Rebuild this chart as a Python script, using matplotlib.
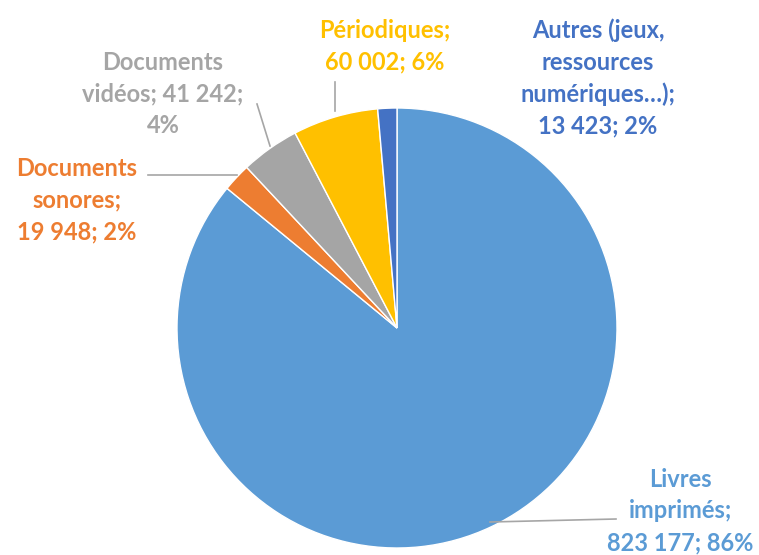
import matplotlib
matplotlib.use('Agg')
import matplotlib.pyplot as plt

values = [823177, 19948, 41242, 60002, 13423]
value_labels = ['823 177', '19 948', '41 242', '60 002', '13 423']
pct_labels = ['86%', '2%', '4%', '6%', '2%']
colors = ['#5B9BD5', '#ED7D31', '#A5A5A5', '#FFC000', '#4472C4']

plt.rcParams['font.family'] = ['Lato', 'DejaVu Sans']

fig = plt.figure(figsize=(7.59, 5.55), dpi=100)
ax = fig.add_axes([0, 0, 1, 1])

cx, cy, r = 397, 555 - 328, 220
ax.pie(values, colors=colors, startangle=90, counterclock=False,
       center=(cx, cy), radius=r, frame=True,
       wedgeprops=dict(edgecolor='white', linewidth=1))
ax.set_xlim(0, 759)
ax.set_ylim(0, 555)
ax.set_aspect('equal')
ax.axis('off')

texts = [
    ('Livres\nimprimés;\n%s; %s' % (value_labels[0], pct_labels[0]), 680, 555 - 511),
    ('Documents\nsonores;\n%s; %s' % (value_labels[1], pct_labels[1]), 77, 555 - 200),
    ('Documents\nvidéos; %s;\n%s' % (value_labels[2], pct_labels[2]), 163, 555 - 94),
    ('Périodiques;\n%s; %s' % (value_labels[3], pct_labels[3]), 385, 555 - 46),
    ('Autres (jeux,\nressources\nnumériques…);\n%s; %s' % (value_labels[4], pct_labels[4]), 598, 555 - 78),
]
for (t, x, y), c in zip(texts, colors):
    ax.text(x, y, t, ha='center', va='center', color=c, fontsize=17,
            fontweight='bold', linespacing=1.45)

lc = '#A6A6A6'
ax.plot([490, 616], [555 - 522, 555 - 519], color=lc, lw=1.2)
ax.plot([237, 148], [555 - 175, 555 - 175], color=lc, lw=1.2)
ax.plot([270, 257], [555 - 146, 555 - 104], color=lc, lw=1.2)
ax.plot([335, 335], [555 - 111, 555 - 82], color=lc, lw=1.2)

fig.savefig('out.png', dpi=100)
